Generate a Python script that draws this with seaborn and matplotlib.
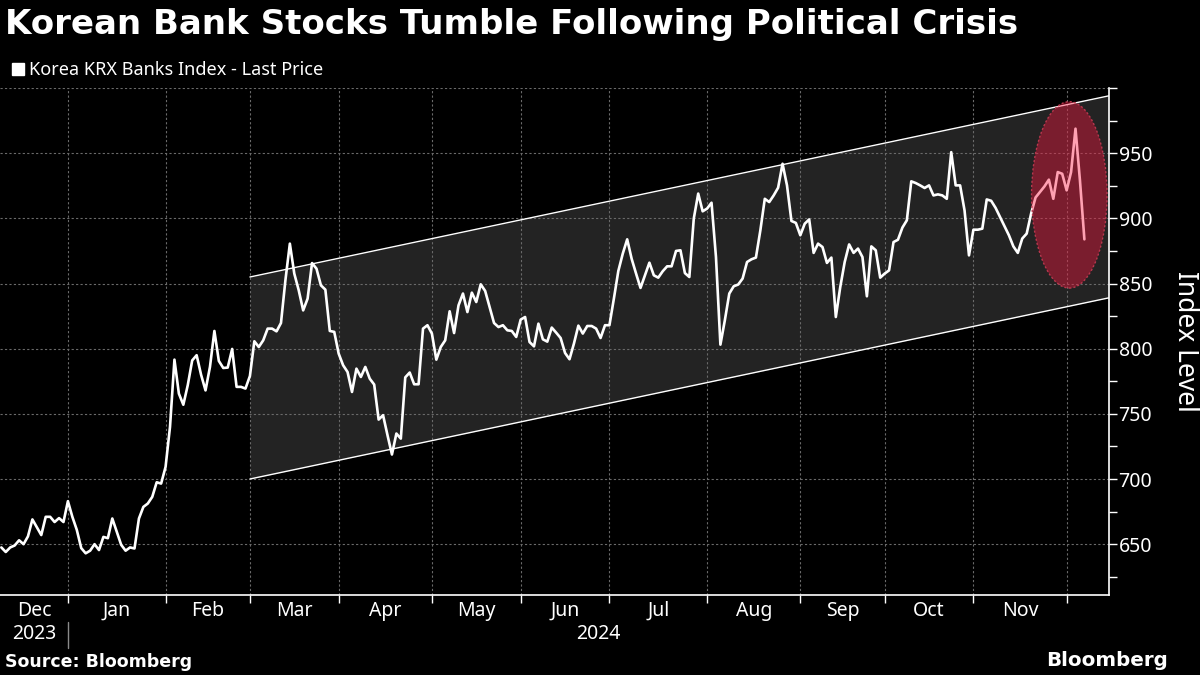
import numpy as np
import pandas as pd
import matplotlib.pyplot as plt
import seaborn as sns
from matplotlib.patches import Ellipse
from matplotlib.lines import Line2D
import matplotlib.transforms as mtransforms

# Korea KRX Banks Index, daily closes (trading-day index)
prices = [
    647.5, 644, 647.5, 649, 653, 650, 656, 669, 663, 657, 671, 671, 667, 670, 667,
    683, 671, 661, 647, 643, 645, 650, 645.5, 655.6, 654.6, 669.7, 659.7, 649.5, 645,
    647.5, 646.7, 669.7, 678.6, 681.2, 686.3, 697.5, 696.5, 709.3, 740, 791.6, 765.5,
    757, 772, 791, 795, 780, 768, 786, 813.6, 790.6, 785.2, 785.5, 799.8, 770.7, 770.7,
    769.4, 779, 805.7, 801.3, 806.4, 815.4, 815.4, 813.3, 819.7, 852.5, 880.6, 857.6,
    844.8, 829.4, 838.4, 865.7, 861.4, 848.6, 845.3, 813.6, 812.9, 796.2, 787.3, 782.1,
    766.8, 784.7, 778.3, 786, 777, 772.5, 745.6, 749, 733.6, 718.8, 734.9, 731, 778,
    781.7, 772.7, 772.7, 815.4, 818, 811.6, 791.6, 801.3, 806.4, 828.7, 812, 833.3,
    842.3, 828.1, 843, 835.8, 849.4, 844.3, 832, 819.7, 816.6, 818, 814.1, 813.6, 809,
    822.3, 824.3, 805.1, 801.8, 819.2, 807.2, 805.4, 816.2, 812.3, 808.2, 796.7, 791.9,
    803.9, 817.7, 811.6, 817.4, 817.4, 815.4, 808.2, 818, 818, 838.4, 859.6, 872.9,
    883.9, 869, 857.6, 846.6, 856.3, 866, 856.3, 854.5, 859.4, 863.2, 863.2, 875, 875.5,
    858, 855, 899.8, 919, 905.4, 907.5, 912, 870.3, 803.1, 821.8, 842.3, 847.9, 849.2,
    853.8, 866.5, 868.6, 869.9, 890.8, 915, 912.5, 917.6, 923.5, 941.9, 925.3, 898,
    896.5, 887, 895.9, 899.2, 873.5, 880.6, 878, 865.8, 869.9, 824.3, 847.3, 866.5, 880,
    873.5, 876.8, 870.3, 840.2, 878.5, 875.5, 854.5, 857.6, 860.1, 881.8, 883.6, 892.9,
    898.5, 928.4, 927.1, 925.3, 923.3, 925.3, 917.6, 918.4, 917.6, 915, 950.8, 925.3,
    925.3, 906.1, 871.6, 891.3, 891.3, 892.1, 914.5, 913.5, 908, 901, 893.9, 887, 878.5,
    873.5, 884.5, 888.3, 903.7, 916, 920.3, 924.5, 929.7, 915, 935.5, 934.2, 921.5,
    935.5, 968.8, 929.1, 883.9,
]

# first trading day of each month (Jan 2024 .. Dec 2024)
month_starts = [15, 37, 56, 76, 97, 117, 137, 159, 180, 199, 219, 240]
month_labels = ["Dec", "Jan", "Feb", "Mar", "Apr", "May", "Jun", "Jul", "Aug",
                "Sep", "Oct", "Nov"]

# trend channel drawn from March onward
channel_x = [56, 249.5]
channel_upper = [855, 994]
channel_lower = [700, 839]

# highlighted crisis zone
crisis_center = (240.6, 918)
crisis_width, crisis_height = 17, 143

y_ticks = [650, 700, 750, 800, 850, 900, 950, 1000]
y_minor = [625, 675, 725, 775, 825, 875, 925, 975]

df = pd.DataFrame({"day": np.arange(len(prices)), "price": prices})

sns.set_theme(style="dark")
plt.rcParams['font.family'] = ['Noto Sans', 'DejaVu Sans']
plt.rcParams['text.color'] = 'white'
bold_font = ['DejaVu Sans']

fig = plt.figure(figsize=(12, 6.75), dpi=100, facecolor='black')
ax = fig.add_axes([0.0, 0.1185, 0.924, 0.7511], facecolor='black')

x_left, x_right = -0.3, 249.5
ax.set_xlim(x_left, x_right)
ax.set_ylim(611, 1000)

# channel
ax.fill_between(channel_x, channel_lower, channel_upper, color='#232323',
                zorder=0.1, linewidth=0)
ax.plot(channel_x, channel_upper, color='white', lw=1.0, zorder=2)
ax.plot(channel_x, channel_lower, color='white', lw=1.0, zorder=2)

sns.lineplot(data=df, x='day', y='price', color='white', lw=1.9, ax=ax,
             zorder=3, legend=False)

# crisis ellipse
ax.add_patch(Ellipse(crisis_center, crisis_width, crisis_height,
                     facecolor='#ff143f', alpha=0.4, edgecolor='none', zorder=4))
ax.add_patch(Ellipse(crisis_center, crisis_width, crisis_height, fill=False,
                     edgecolor='#b8384e', lw=1.0, linestyle=(0, (1.5, 1.5)), zorder=4))

# axes styling
for side in ['top', 'left']:
    ax.spines[side].set_visible(False)
for side in ['right', 'bottom']:
    ax.spines[side].set_visible(True)
    ax.spines[side].set_color('white')
    ax.spines[side].set_linewidth(1.2)

ax.yaxis.tick_right()
ax.yaxis.set_label_position('right')
ax.set_yticks(y_ticks, [str(t) for t in y_ticks[:-1]] + [''])
ax.set_yticks(y_minor, minor=True)
ax.tick_params(axis='y', which='both', right=True, left=False, length=6,
               width=1, color='white', labelcolor='white', labelsize=14, pad=1)

label_pos = [(a + b) / 2 for a, b in zip([x_left] + month_starts[:-1], month_starts)]
ax.set_xticks(month_starts, [''] * len(month_starts))
ax.set_xticks(label_pos, month_labels, minor=True)
ax.tick_params(axis='x', which='major', bottom=True, length=6, width=1, color='white')
ax.tick_params(axis='x', which='minor', bottom=True, length=0, labelcolor='white',
               labelsize=14, pad=4)

ax.set_xlabel('')
ax.set_ylabel('Index Level', rotation=270, color='white', fontsize=19, labelpad=34)

ax.grid(True, which='major', color='#6a6a6a', linestyle=(0, (2, 2)), lw=0.8)
ax.set_axisbelow(True)

# year labels and divider
tr = mtransforms.blended_transform_factory(ax.transData, ax.transAxes)
ax.text(label_pos[0], -0.077, '2023', transform=tr, ha='center', va='center',
        fontsize=14, color='white')
ax.text(134.5, -0.077, '2024', transform=tr, ha='center', va='center',
        fontsize=14, color='white')
ax.plot([month_starts[0], month_starts[0]], [-0.053, -0.105], transform=tr,
        color='#8a8a8a', lw=1, clip_on=False)

# titles and notes
fig.text(0.004, 0.963, 'Korean Bank Stocks Tumble Following Political Crisis',
         fontsize=24.5, fontweight='bold', family=bold_font, color='white',
         va='center', ha='left')
handle = Line2D([], [], marker='s', color='white', linestyle='None', markersize=9)
fig.legend([handle], ['Korea KRX Banks Index - Last Price'], loc='center left',
           bbox_to_anchor=(-0.006, 0.896), frameon=False, fontsize=13,
           labelcolor='white', handletextpad=0.1, handlelength=1.0)
fig.text(0.004, 0.019, 'Source: Bloomberg', fontsize=12.5, fontweight='bold',
         family=bold_font, color='white', va='center', ha='left')
fig.text(0.973, 0.022, 'Bloomberg', fontsize=14.3, fontweight='bold',
         family=bold_font, color='white', va='center', ha='right')

fig.savefig('out.png', dpi=100, facecolor='black')
